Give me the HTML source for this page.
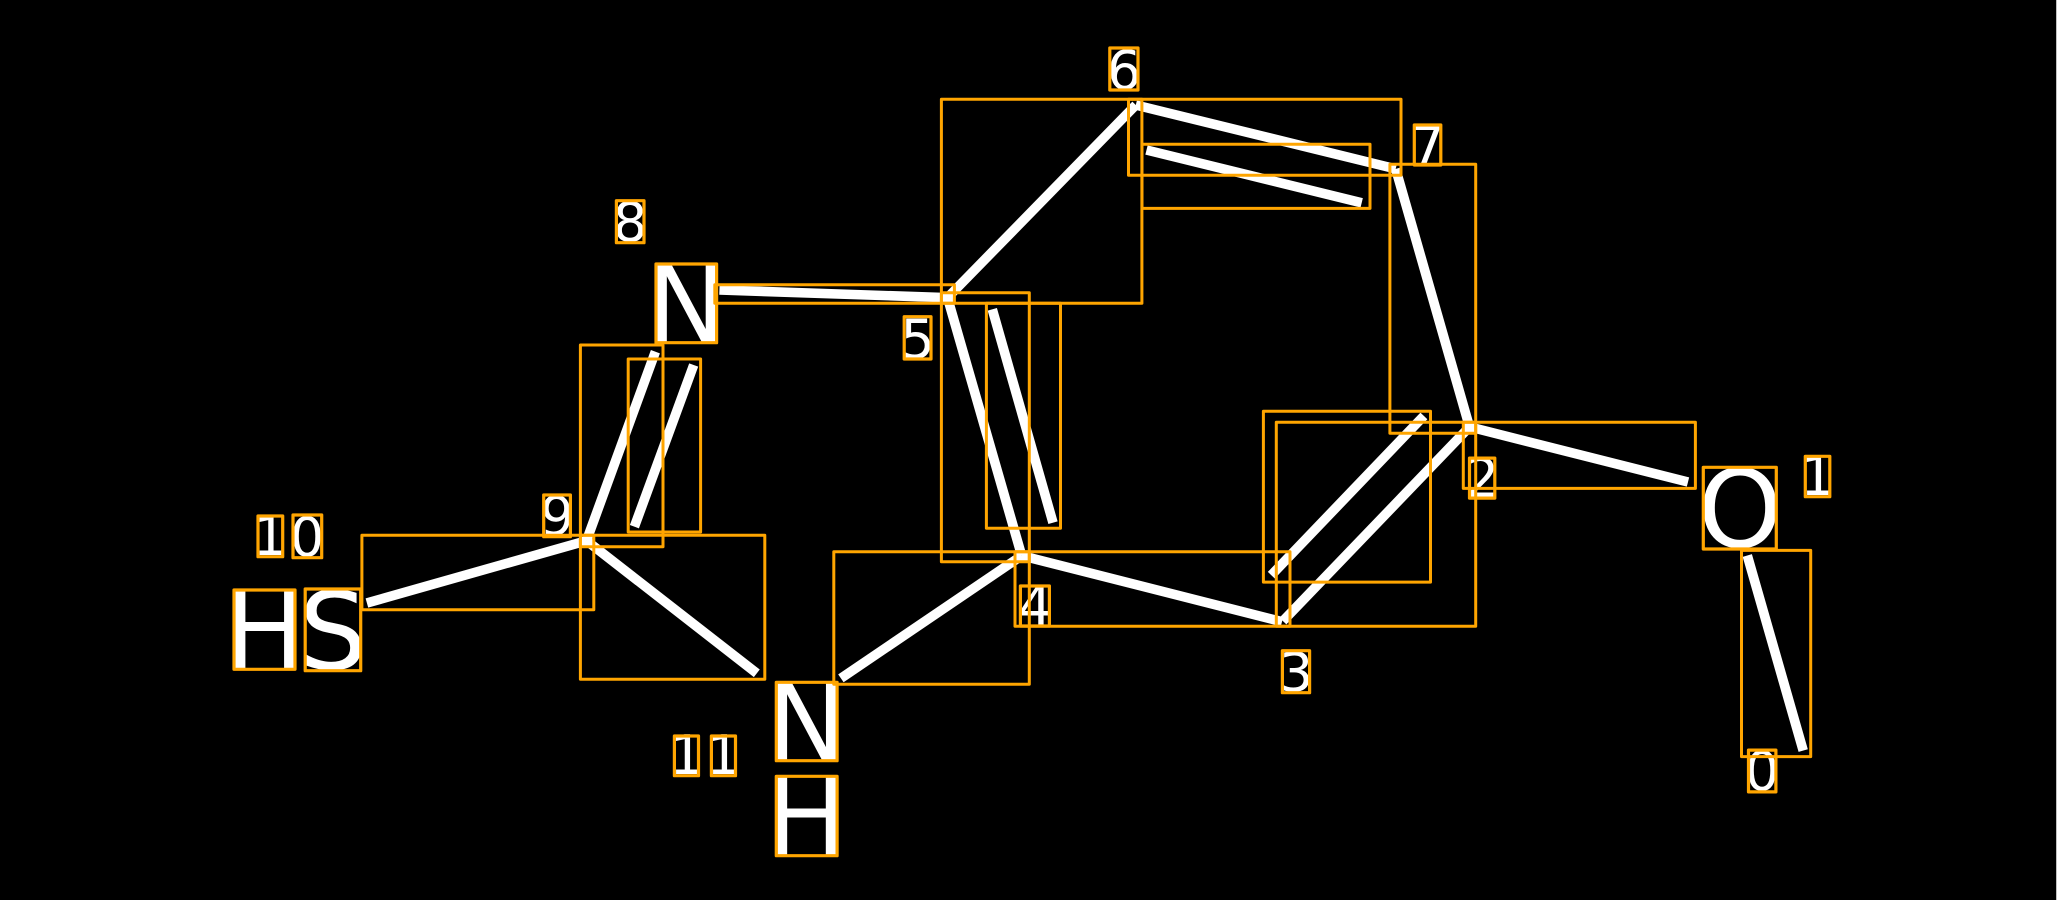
<!DOCTYPE html>
<html><head><meta charset="utf-8"><style>
html,body{margin:0;padding:0;background:#000;width:2057px;height:900px;overflow:hidden}
svg{display:block}
text{font-family:"DejaVu Sans","Liberation Sans",sans-serif;fill:#fff;text-anchor:middle}
.b{font-size:108px}.s{font-size:54px}
.l line{stroke:#fff;stroke-width:9.6}
.r rect{fill:none;stroke:#FFA500;stroke-width:3;stroke-linejoin:round}
.t rect{fill:none;stroke:#FFA500;stroke-width:3.2;stroke-linejoin:round}
</style></head><body>
<svg width="2057" height="900" viewBox="0 0 2057 900" xmlns="http://www.w3.org/2000/svg">
<rect width="2057" height="900" fill="#000"/>
<rect x="2056" y="0" width="1" height="900" fill="#c0c0c0"/>
<g class="l">
<line x1="1747.3" y1="555.5" x2="1803.2" y2="750.6"/>
<line x1="1469.5" y1="426.9" x2="1688" y2="482"/>
<line x1="1469.5" y1="426.9" x2="1282.9" y2="621.1"/>
<line x1="1271.3" y1="575.2" x2="1423.9" y2="415.9"/>
<line x1="1282" y1="621.7" x2="1021.7" y2="555.7"/>
<line x1="1021.7" y1="555.7" x2="947.5" y2="297.7"/>
<line x1="992.3" y1="309.3" x2="1053" y2="522.7"/>
<line x1="947.5" y1="297.7" x2="1135.8" y2="105"/>
<line x1="1135.8" y1="105" x2="1395.7" y2="168.9"/>
<line x1="1146.5" y1="150" x2="1361.7" y2="202.8"/>
<line x1="1395.7" y1="168.9" x2="1469.5" y2="426.9"/>
<line x1="947.5" y1="297.7" x2="719.4" y2="290"/>
<line x1="655.4" y1="351.7" x2="586.5" y2="540.7"/>
<line x1="693.7" y1="365" x2="634.4" y2="526.7"/>
<line x1="586.5" y1="540.7" x2="366.9" y2="603"/>
<line x1="586.5" y1="540.7" x2="756.8" y2="673.3"/>
<line x1="1021.7" y1="555.7" x2="840.9" y2="678.3"/>
</g>
<g>
<text class="s" x="1762" y="790">0</text>
<text class="s" x="1817.5" y="495">1</text>
<text class="b" x="1740" y="547">O</text>
<text class="s" x="1482" y="497">2</text>
<text class="s" x="1296" y="691">3</text>
<text class="s" x="1035" y="625">4</text>
<text class="s" x="917.5" y="358">5</text>
<text class="s" x="1124" y="89">6</text>
<text class="s" x="1427.5" y="165">7</text>
<text class="s" x="630" y="241">8</text>
<text class="b" x="686.3" y="342">N</text>
<text class="s" x="557" y="535">9</text>
<text class="s" x="270" y="555">1</text>
<text class="s" x="307" y="556">0</text>
<text class="b" x="264.7" y="668.5">H</text>
<text class="b" x="333" y="669">S</text>
<text class="s" x="686.5" y="774">1</text>
<text class="s" x="723.5" y="774">1</text>
<text class="b" x="806.5" y="760">N</text>
<text class="b" x="806.5" y="855">H</text>
</g>
<g class="r">
<rect x="1741.5" y="550.4" width="69.2" height="206.2"/>
<rect x="1463.3" y="422.3" width="232.1" height="66.1"/>
<rect x="1276.3" y="422.3" width="199.4" height="203.9"/>
<rect x="1263.4" y="411.3" width="167.1" height="170.8"/>
<rect x="1015" y="551.7" width="275" height="74.6"/>
<rect x="941.4" y="292.7" width="87.9" height="269"/>
<rect x="986.4" y="303.3" width="74.1" height="225"/>
<rect x="941.4" y="99.3" width="200.5" height="204"/>
<rect x="1128.5" y="99.3" width="272.5" height="76"/>
<rect x="1142" y="144.3" width="228" height="64.1"/>
<rect x="1389.9" y="164.3" width="85.8" height="269"/>
<rect x="714.8" y="284.7" width="239.6" height="18.6"/>
<rect x="580.4" y="345" width="82.6" height="201.7"/>
<rect x="628.2" y="359" width="72.4" height="173"/>
<rect x="361.9" y="535.3" width="231.9" height="74.4"/>
<rect x="580.4" y="535.3" width="184.4" height="144"/>
<rect x="833.8" y="551.7" width="195.5" height="132.6"/>
</g>
<g class="t">
<rect x="1748.5" y="750.1" width="27.4" height="41.8"/>
<rect x="1805.3" y="456.3" width="24.5" height="40.4"/>
<rect x="1703.3" y="467.3" width="73" height="81.7"/>
<rect x="1469.5" y="458.1" width="25.3" height="40"/>
<rect x="1282.4" y="650.7" width="27.2" height="42"/>
<rect x="1020.4" y="586" width="29" height="40"/>
<rect x="904.2" y="316.7" width="26.8" height="42.3"/>
<rect x="1109.8" y="48" width="28.2" height="42"/>
<rect x="1414.3" y="125" width="26.5" height="40"/>
<rect x="616.4" y="200.7" width="27.6" height="42"/>
<rect x="656" y="264" width="60.6" height="78.7"/>
<rect x="543.7" y="495" width="26.7" height="41.7"/>
<rect x="258" y="516" width="24.7" height="40.7"/>
<rect x="293" y="515" width="28.7" height="42.7"/>
<rect x="234" y="590" width="61" height="79.3"/>
<rect x="305.2" y="589" width="55.5" height="81.7"/>
<rect x="674.4" y="736" width="24.1" height="39.7"/>
<rect x="711.4" y="736" width="24.1" height="39.7"/>
<rect x="776.3" y="682.3" width="60.8" height="78.4"/>
<rect x="776.3" y="776.3" width="60.8" height="79.4"/>
</g>
</svg>
</body></html>
